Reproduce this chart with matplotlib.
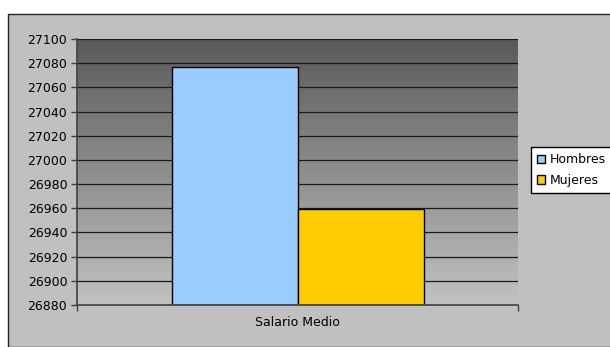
import numpy as np
import matplotlib
matplotlib.use("Agg")
import matplotlib.pyplot as plt
from matplotlib.patches import Rectangle
from matplotlib.colors import LinearSegmentedColormap

categories = ["Salario Medio"]
series = ["Hombres", "Mujeres"]
values = [27077, 26959]
colors = ["#99ccff", "#ffcc00"]
yticks = list(range(26880, 27101, 20))

plt.rcParams["font.family"] = ["DejaVu Sans"]

W, H = 610, 347
fig = plt.figure(figsize=(W / 100, H / 100), dpi=100)
fig.patch.set_facecolor("white")

# chart area frame (runs off the right and bottom edges)
fig.add_artist(Rectangle((8 / W, 0), 1.0, 1 - 14 / H, transform=fig.transFigure,
                         fc="#c0c0c0", ec="#222222", lw=1.0, zorder=0))

x0, x1, ytop, ybot = 77, 518, 39, 305
ax = fig.add_axes([x0 / W, 1 - ybot / H, (x1 - x0) / W, (ybot - ytop) / H])
ax.set_facecolor("none")

# vertical grey gradient behind the bars
grad = np.linspace(0, 1, 256).reshape(-1, 1)
cmap = LinearSegmentedColormap.from_list("bg", ["#5a5a5a", "#c2c2c2"])
ax.imshow(grad, cmap=cmap, extent=[0, 1, 0, 1], transform=ax.transAxes,
          aspect="auto", origin="upper", zorder=0)

ax.set_xlim(-0.5, 0.5)
ax.set_ylim(yticks[0], yticks[-1])
w = 126 / 441
offs = [-w / 2, w / 2]
for i, (s, v, c) in enumerate(zip(series, values, colors)):
    ax.bar(offs[i], v - yticks[0], width=w, bottom=yticks[0], color=c,
           ec="black", lw=1.0, label=s, zorder=3)

for y in yticks[1:]:
    ax.axhline(y, color="#1a1a1a", lw=0.9, zorder=1)

ax.set_yticks(yticks)
ax.set_yticklabels([str(t) for t in yticks], fontsize=9, color="black")
ax.tick_params(axis="y", length=4, width=1, color="#404040", pad=3)
ax.set_xticks([0])
ax.set_xticklabels(categories, fontsize=9)
ax.tick_params(axis="x", which="major", length=0, pad=8)
ax.set_xticks([-0.5, 0.5], minor=True)
ax.tick_params(axis="x", which="minor", length=4, width=1, color="#404040")
for side in ["top", "right"]:
    ax.spines[side].set_visible(False)
for side in ["left", "bottom"]:
    ax.spines[side].set_color("#404040")
    ax.spines[side].set_linewidth(1.2)
    ax.spines[side].set_zorder(4)

fig.legend(loc="upper left", bbox_to_anchor=(531 / W, 1 - 147 / H),
           borderaxespad=0, fontsize=9, frameon=True, fancybox=False,
           edgecolor="black", facecolor="white", framealpha=1,
           handlelength=0.65, handleheight=0.65, handletextpad=0.32,
           labelspacing=0.6, borderpad=0.5)

fig.savefig("out.png", dpi=100)
